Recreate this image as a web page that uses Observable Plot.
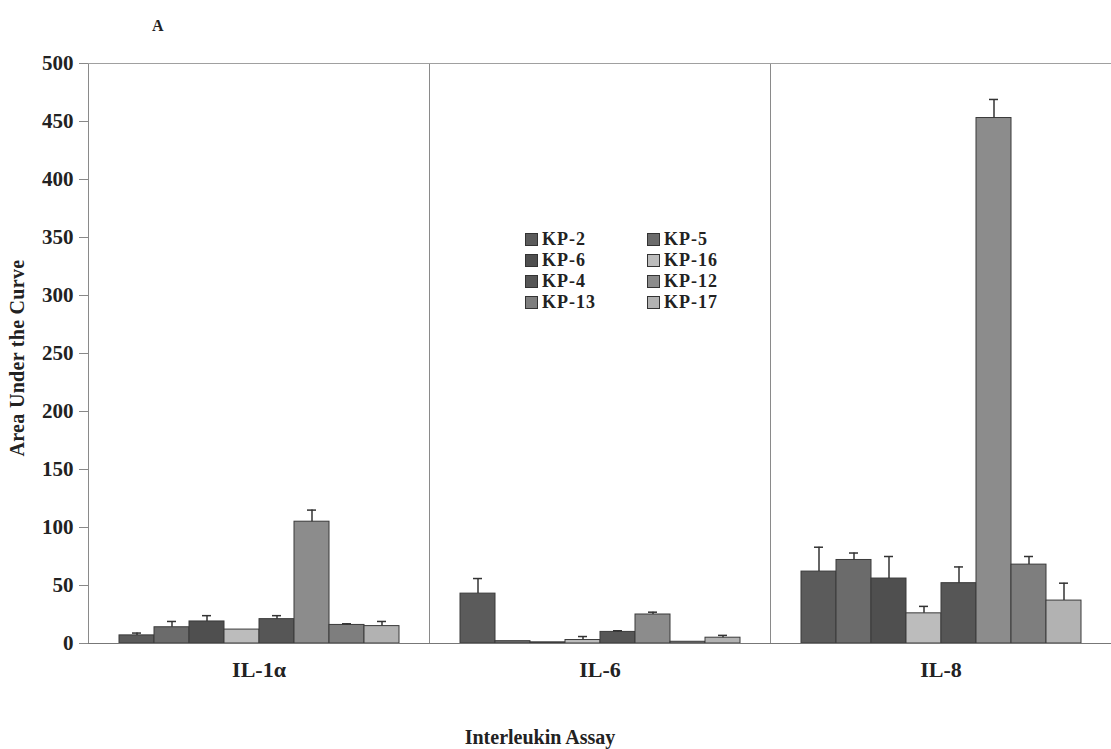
<!DOCTYPE html>
<html>
<head>
<meta charset="utf-8">
<script src="https://cdn.jsdelivr.net/npm/d3@7"></script>
<script src="https://cdn.jsdelivr.net/npm/@observablehq/plot@0.6"></script>
<style>
  body { margin: 0; background: white; }
  #wrap { position: relative; width: 1111px; height: 749px; font-family: "Liberation Serif", "Times New Roman", serif; font-weight: bold; color: #222; }
  #letter { position: absolute; left: 152px; top: 17px; font-size: 16px; }
  #legend { position: absolute; left: 525px; top: 229px; display: grid; grid-template-columns: 122px 100px; font-size: 18px; letter-spacing: 1px; line-height: 21px; }
  .item { display: flex; align-items: center; white-space: nowrap; height: 21px; }
  .sw { width: 13px; height: 13px; margin-right: 4px; border: 1px solid #333; box-sizing: border-box; }
  #ylabel { position: absolute; left: 17px; top: 358px; transform: translate(-50%, -50%) rotate(-90deg); font-size: 20px; letter-spacing: 0.3px; white-space: nowrap; }
  #xlabel { position: absolute; left: 540px; top: 737px; transform: translate(-50%, -50%); font-size: 20px; white-space: nowrap; }
</style>
</head>
<body>
<div id="wrap">
  <div id="chart"></div>
  <div id="letter">A</div>
  <div id="legend"></div>
  <div id="ylabel">Area Under the Curve</div>
  <div id="xlabel">Interleukin Assay</div>
</div>
<script>
const assays = ["IL-1α", "IL-6", "IL-8"];
const strains = ["KP-2", "KP-5", "KP-6", "KP-16", "KP-4", "KP-12", "KP-13", "KP-17"];
const il1aValues = [7, 14, 19, 12, 21, 105, 16, 15];
const il1aErrors = [2, 5, 5, 0, 3, 10, 1, 4];
const il6Values = [43, 2, 1, 3, 10, 25, 1.5, 5];
const il6Errors = [13, 0, 0, 3, 1, 2, 0, 2];
const il8Values = [62, 72, 56, 26, 52, 453, 68, 37];
const il8Errors = [21, 6, 19, 6, 14, 16, 7, 15];
const strainColors = ["#5b5b5b", "#6b6b6b", "#4f4f4f", "#bcbcbc", "#565656", "#8c8c8c", "#7e7e7e", "#b2b2b2"];
const yTicks = [0, 50, 100, 150, 200, 250, 300, 350, 400, 450, 500];

const valueSets = [il1aValues, il6Values, il8Values];
const errorSets = [il1aErrors, il6Errors, il8Errors];
const data = [];
assays.forEach((a, gi) => {
  strains.forEach((s, si) => {
    data.push({assay: a, strain: s, value: valueSets[gi][si], err: errorSets[gi][si]});
  });
});

const chart = Plot.plot({
  width: 1111,
  height: 749,
  marginLeft: 88,
  marginRight: 0,
  marginTop: 63,
  marginBottom: 106,
  style: {fontFamily: "'Liberation Serif', 'Times New Roman', serif", fontWeight: "bold", fontSize: "20px", color: "#222", background: "white", overflow: "visible"},
  fx: {domain: assays, padding: 0},
  x: {domain: strains, paddingInner: 0, paddingOuter: 0.74},
  y: {domain: [0, 500]},
  color: {domain: strains, range: strainColors},
  marks: [
    Plot.frame({anchor: "left", stroke: "#8a8a8a"}),
    Plot.frame({anchor: "top", stroke: "#a0a0a0"}),
    Plot.barY(data, {fx: "assay", x: "strain", y: "value", fill: "strain", stroke: "#3a3a3a", strokeWidth: 1}),
    Plot.ruleX(data.filter(d => d.err > 0), {fx: "assay", x: "strain", y1: "value", y2: d => d.value + d.err, stroke: "#333", strokeWidth: 1.5}),
    Plot.tickY(data.filter(d => d.err > 0), {fx: "assay", x: "strain", y: d => d.value + d.err, stroke: "#333", strokeWidth: 1.5, insetLeft: 13, insetRight: 13}),
    Plot.ruleY([0], {stroke: "#777", strokeWidth: 1.2}),
    Plot.axisX({ticks: [], label: null}),
    Plot.axisY({ticks: yTicks, tickSize: 9, tickPadding: 6, tickFormat: "d", fontSize: 21, label: null, stroke: "#888"}),
    Plot.axisFx({anchor: "bottom", tickSize: 0, tickPadding: 18, fontSize: 22, label: null})
  ]
});
document.getElementById("chart").appendChild(chart);

const legend = document.getElementById("legend");
strains.forEach((s, i) => {
  const item = document.createElement("div");
  item.className = "item";
  const sw = document.createElement("span");
  sw.className = "sw";
  sw.style.background = strainColors[i];
  const t = document.createElement("span");
  t.textContent = s;
  item.appendChild(sw);
  item.appendChild(t);
  legend.appendChild(item);
});
</script>
</body>
</html>
